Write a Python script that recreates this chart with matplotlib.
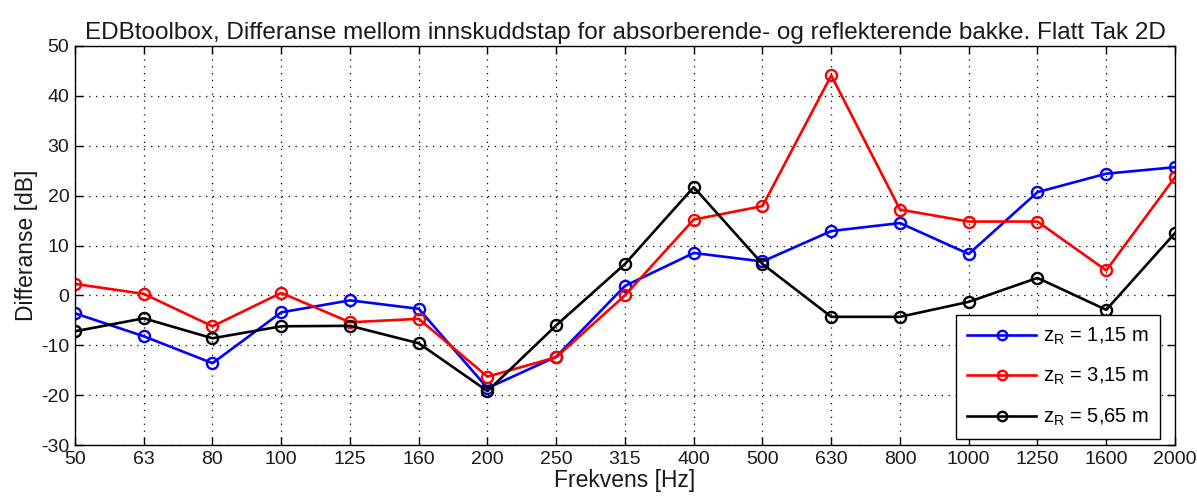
import matplotlib
matplotlib.use("Agg")
import matplotlib.pyplot as plt
import numpy as np

plt.rcParams['font.family'] = ['Liberation Sans', 'DejaVu Sans']
plt.rcParams['mathtext.default'] = 'regular'
plt.rcParams['axes.unicode_minus'] = False

freqs = ["50", "63", "80", "100", "125", "160", "200", "250", "315", "400",
         "500", "630", "800", "1000", "1250", "1600", "2000"]

diff_z115 = [-3.6, -8.2, -13.6, -3.4, -1.0, -2.7, -18.6, -12.3, 1.9, 8.5,
             6.8, 12.9, 14.5, 8.3, 20.7, 24.4, 25.7]
diff_z315 = [2.3, 0.3, -6.2, 0.5, -5.4, -4.7, -16.3, -12.4, 0.0, 15.2,
             17.9, 44.1, 17.2, 14.8, 14.8, 5.0, 23.7]
diff_z565 = [-7.2, -4.6, -8.6, -6.2, -6.1, -9.6, -19.2, -6.0, 6.3, 21.7,
             6.3, -4.3, -4.3, -1.3, 3.5, -2.9, 12.5]

series = [
    (diff_z115, "blue", "$z_R$ = 1,15 m"),
    (diff_z315, "red", "$z_R$ = 3,15 m"),
    (diff_z565, "black", "$z_R$ = 5,65 m"),
]

W, H = 1197, 504
fig = plt.figure(figsize=(W / 100, H / 100), dpi=100)
ax = fig.add_axes([75 / W, 1 - 445 / H, 1100 / W, 399 / H])

x = np.arange(len(freqs))
for vals, col, lab in series:
    ax.plot(x, vals, color=col, linewidth=1.9, marker='o', markersize=8,
            markerfacecolor='none', markeredgewidth=1.7, label=lab)

ax.set_xlim(0, len(freqs) - 1)
ax.set_ylim(-30, 50)
ax.set_xticks(x)
ax.set_xticklabels(freqs)
ax.set_yticks(np.arange(-30, 51, 10))

ax.grid(True, color='black', linestyle=(0, (1, 4.5)), linewidth=0.9)
ax.tick_params(direction='in', top=True, right=True, length=6, width=1,
               labelsize=14, pad=4, labelcolor='#1a1a1a')
for sp in ax.spines.values():
    sp.set_linewidth(1.0)

ax.set_xlabel("Frekvens [Hz]", fontsize=16.5, labelpad=1, color='#1a1a1a')
ax.set_ylabel("Differanse [dB]", fontsize=16.5, labelpad=2, color='#1a1a1a')
ax.set_title("EDBtoolbox, Differanse mellom innskuddstap for absorberende- og "
             "reflekterende bakke. Flatt Tak 2D", fontsize=17.5, pad=5,
             color='#1a1a1a')

# legend box anchored near the lower right corner of the axes
anchor = ax.transAxes.inverted().transform(
    ax.transAxes.transform((1, 0)) + np.array([-15, 6]))
leg = ax.legend(loc='lower right', bbox_to_anchor=tuple(anchor),
                fontsize=14.5, frameon=True, fancybox=False,
                edgecolor='black', framealpha=1, borderaxespad=0,
                handlelength=3.4, handletextpad=0.35, labelspacing=0.95,
                borderpad=0.55, markerscale=0.85)
leg.get_frame().set_linewidth(1.0)

fig.savefig("out.png", dpi=100)
